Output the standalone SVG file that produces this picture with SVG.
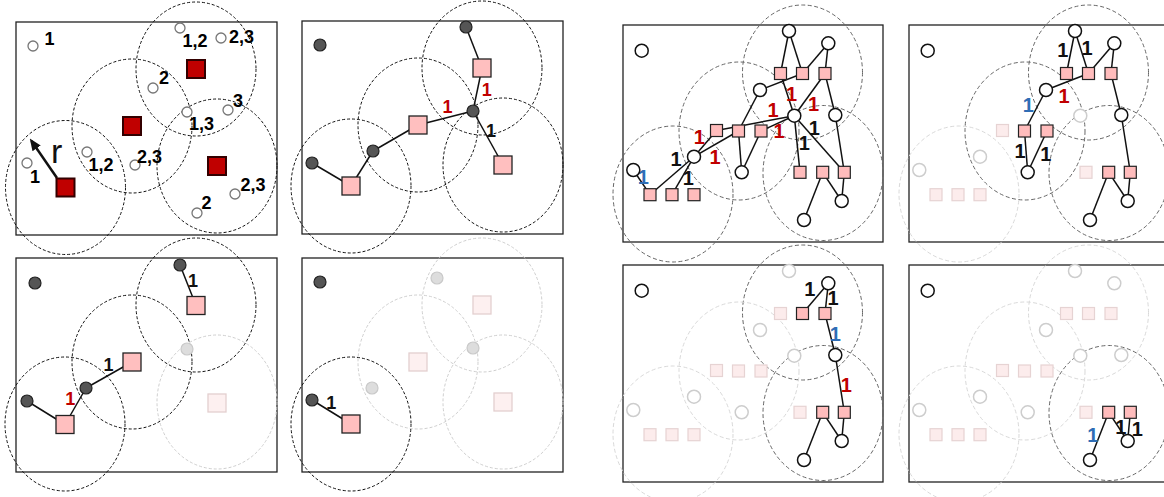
<svg xmlns="http://www.w3.org/2000/svg" width="1164" height="497" viewBox="0 0 1164 497">
<defs>
<style>
.frame{fill:none;stroke:#222;stroke-width:1.3}
.rg{fill:none;stroke:#111;stroke-width:1;stroke-dasharray:3 2}
.rgf{fill:none;stroke:#cfcfcf;stroke-width:1;stroke-dasharray:3 2}
.rr{fill:none;stroke:#666;stroke-width:1;stroke-dasharray:4 2.5}
.rrf{fill:none;stroke:#d9d9d9;stroke-width:1;stroke-dasharray:4 2.5}
.sc{fill:#fff;stroke:#777;stroke-width:1.3}
.dot{fill:#555;stroke:#222;stroke-width:1.2}
.dotf{fill:#ddd;stroke:#c9c9c9;stroke-width:1.2}
.sqr{fill:#c00000;stroke:#300;stroke-width:2}
.sqp{fill:#ffbfbf;stroke:#222;stroke-width:1.3}
.sqf{fill:#fdf0f0;stroke:#e3cfcf;stroke-width:1.3}
.ed line{stroke:#111;stroke-width:1.5;fill:none}
.rc{fill:#fff;stroke:#111;stroke-width:1.5}
.rcf{fill:#fff;stroke:#cdcdcd;stroke-width:1.5}
.rs{fill:#ffbcbc;stroke:#222;stroke-width:1.2}
.rsf{fill:#fcecec;stroke:#e6d3d3;stroke-width:1.2}
text{font-family:"Liberation Sans Narrow","Arial Narrow","Liberation Sans",Arial,sans-serif;font-weight:bold;font-size:18px}
.rt text{font-size:20px}
.k{fill:#111}.red{fill:#c00000}.blu{fill:#2f6db5}.mid{text-anchor:middle}
</style>
<marker id="ah" viewBox="0 0 12 10" refX="9" refY="5" markerWidth="12" markerHeight="10" markerUnits="userSpaceOnUse" orient="auto"><path d="M0,0 L12,5 L0,10 z" fill="#111"/></marker>
</defs>
<rect width="1164" height="497" fill="#fff"/>

<!-- Panel 1 -->
<g id="p1">
<rect class="frame" x="16" y="22" width="261" height="213"/>
<g id="p1-ranges">
<ellipse class="rg" cx="65.5" cy="187.5" rx="60" ry="67"/>
<ellipse class="rg" cx="132" cy="126" rx="60" ry="67"/>
<ellipse class="rg" cx="196" cy="69" rx="60" ry="67"/>
<ellipse class="rg" cx="217" cy="166" rx="60" ry="67"/>
</g>
<g id="p1-connectors"><line x1="57" y1="178" x2="31.5" y2="141" stroke="#111" stroke-width="2.5" marker-end="url(#ah)"/></g>
<g id="p1-s1"><rect class="sqr" x="56.5" y="178.5" width="18" height="18"/></g>
<g id="p1-s2"><rect class="sqr" x="123" y="117" width="18" height="18"/></g>
<g id="p1-s3"><rect class="sqr" x="187" y="60" width="18" height="18"/></g>
<g id="p1-s4"><rect class="sqr" x="208" y="157" width="18" height="18"/></g>
<g id="p1-n1"><circle class="sc" cx="33" cy="46" r="5"/><text x="44.5" y="45">1</text></g>
<g id="p1-n2"><circle class="sc" cx="180" cy="28" r="5"/><text x="182.5" y="46.7">1,2</text></g>
<g id="p1-n3"><circle class="sc" cx="221" cy="38" r="5"/><text x="229" y="42.7">2,3</text></g>
<g id="p1-n4"><circle class="sc" cx="153" cy="88" r="5"/><text x="159" y="84">2</text></g>
<g id="p1-n5"><circle class="sc" cx="187" cy="112" r="5"/><text x="189" y="130">1,3</text></g>
<g id="p1-n6"><circle class="sc" cx="228" cy="110" r="5"/><text x="233" y="106.7">3</text></g>
<g id="p1-n7"><circle class="sc" cx="87" cy="152" r="5"/><text x="88.5" y="171">1,2</text></g>
<g id="p1-n8"><circle class="sc" cx="135" cy="165" r="5"/><text x="137" y="162.7">2,3</text></g>
<g id="p1-n9"><circle class="sc" cx="27" cy="163" r="5"/><text x="30" y="182.7">1</text></g>
<g id="p1-n10"><circle class="sc" cx="235" cy="194" r="5"/><text x="240.5" y="191">2,3</text></g>
<g id="p1-n11"><circle class="sc" cx="197" cy="213" r="5"/><text x="201.5" y="209.3">2</text></g>
<text x="51" y="163" style="font-weight:normal;font-size:34px" fill="#111">r</text>
</g>

<!-- Panel 2 -->
<g id="p2">
<rect class="frame" x="302" y="21" width="261" height="213"/>
<g id="p2-ranges">
<ellipse class="rg" cx="351" cy="186" rx="60" ry="67"/>
<ellipse class="rg" cx="418" cy="125" rx="60" ry="67"/>
<ellipse class="rg" cx="482" cy="68" rx="60" ry="67"/>
<ellipse class="rg" cx="503" cy="165" rx="60" ry="67"/>
</g>
<g id="p2-connectors" class="ed">
<line x1="466" y1="27" x2="482" y2="68"/>
<line x1="482" y1="68" x2="473" y2="111"/>
<line x1="473" y1="111" x2="418" y2="125"/>
<line x1="473" y1="111" x2="503" y2="165"/>
<line x1="418" y1="125" x2="373" y2="151"/>
<line x1="373" y1="151" x2="351" y2="186"/>
<line x1="351" y1="186" x2="312" y2="163"/>
<text class="red mid" x="486.7" y="96">1</text>
<text class="red mid" x="447.5" y="113.3">1</text>
<text class="k mid" x="491" y="137.3">1</text>
</g>
<g id="p2-s1"><rect class="sqp" x="342" y="177" width="18" height="18"/></g>
<g id="p2-s2"><rect class="sqp" x="409" y="116" width="18" height="18"/></g>
<g id="p2-s3"><rect class="sqp" x="473" y="59" width="18" height="18"/></g>
<g id="p2-s4"><rect class="sqp" x="494" y="156" width="18" height="18"/></g>
<g id="p2-n1"><circle class="dot" cx="320" cy="45" r="6"/></g>
<g id="p2-n2"><circle class="dot" cx="466" cy="27" r="6"/></g>
<g id="p2-n3"><circle class="dot" cx="473" cy="111" r="6"/></g>
<g id="p2-n4"><circle class="dot" cx="373" cy="151" r="6"/></g>
<g id="p2-n5"><circle class="dot" cx="312" cy="163" r="6"/></g>
</g>

<!-- Panel 3 -->
<g id="p3">
<rect class="frame" x="16" y="258" width="261" height="214"/>
<g id="p3-ranges">
<ellipse class="rg" cx="65" cy="424" rx="60" ry="67"/>
<ellipse class="rg" cx="132" cy="362" rx="60" ry="67"/>
<ellipse class="rg" cx="196" cy="305" rx="60" ry="67"/>
<ellipse class="rgf" cx="217" cy="402" rx="60" ry="67"/>
</g>
<g id="p3-connectors" class="ed">
<line x1="180" y1="265" x2="196" y2="305.5"/>
<line x1="132" y1="362" x2="86" y2="388"/>
<line x1="86" y1="388" x2="65" y2="424.5"/>
<line x1="65" y1="424.5" x2="27" y2="401"/>
<text class="k mid" x="193" y="286.7">1</text>
<text class="k mid" x="108.5" y="371">1</text>
<text class="red mid" x="70.3" y="405">1</text>
</g>
<g id="p3-s1"><rect class="sqp" x="56" y="415.5" width="18" height="18"/></g>
<g id="p3-s2"><rect class="sqp" x="123" y="353" width="18" height="18"/></g>
<g id="p3-s3"><rect class="sqp" x="187" y="296.5" width="18" height="18"/></g>
<g id="p3-s4"><rect class="sqf" x="208" y="394" width="18" height="18"/></g>
<g id="p3-n1"><circle class="dot" cx="35" cy="283" r="6"/></g>
<g id="p3-n2"><circle class="dot" cx="180" cy="265" r="6"/></g>
<g id="p3-n3"><circle class="dotf" cx="187" cy="349" r="6"/></g>
<g id="p3-n4"><circle class="dot" cx="86" cy="388" r="6"/></g>
<g id="p3-n5"><circle class="dot" cx="27" cy="401" r="6"/></g>
</g>

<!-- Panel 4 -->
<g id="p4">
<rect class="frame" x="302" y="258" width="261" height="214"/>
<g id="p4-ranges">
<ellipse class="rg" cx="351" cy="424" rx="60" ry="67"/>
<ellipse class="rgf" cx="418" cy="362" rx="60" ry="67"/>
<ellipse class="rgf" cx="482" cy="305" rx="60" ry="67"/>
<ellipse class="rgf" cx="503" cy="402" rx="60" ry="67"/>
</g>
<g id="p4-connectors" class="ed">
<line x1="312" y1="400" x2="351" y2="424"/>
<text class="k mid" x="331.3" y="409">1</text>
</g>
<g id="p4-s1"><rect class="sqp" x="342" y="415" width="18" height="18"/></g>
<g id="p4-s2"><rect class="sqf" x="409" y="353" width="18" height="18"/></g>
<g id="p4-s3"><rect class="sqf" x="473" y="296" width="18" height="18"/></g>
<g id="p4-s4"><rect class="sqf" x="494" y="393" width="18" height="18"/></g>
<g id="p4-n1"><circle class="dot" cx="320" cy="282" r="6"/></g>
<g id="p4-n2"><circle class="dot" cx="312" cy="400" r="6"/></g>
<g id="p4-n3"><circle class="dotf" cx="437" cy="278" r="6"/></g>
<g id="p4-n4"><circle class="dotf" cx="473" cy="348" r="6"/></g>
<g id="p4-n5"><circle class="dotf" cx="372" cy="388" r="6"/></g>
</g>

<!-- Panel 5 -->
<g id="p5" class="rt" transform="translate(623,25)">
<rect class="frame" x="0" y="0" width="260" height="217"/>
<g id="p5-ranges">
<ellipse class="rr" cx="179.5" cy="47.5" rx="60" ry="67.5"/>
<ellipse class="rr" cx="116" cy="106" rx="60" ry="69"/>
<ellipse class="rr" cx="50" cy="169" rx="60" ry="68"/>
<ellipse class="rr" cx="200" cy="148" rx="60" ry="67.5"/>
</g>
<g id="p5-connectors" class="ed">
<line x1="166" y1="6" x2="157.5" y2="48.5"/>
<line x1="166" y1="6" x2="179.5" y2="48.5"/>
<line x1="205.3" y1="18.3" x2="179.5" y2="48.5"/>
<line x1="205.3" y1="18.3" x2="202" y2="48.5"/>
<line x1="202" y1="48.5" x2="212.3" y2="90"/>
<line x1="212.3" y1="90" x2="221.3" y2="147.3"/>
<line x1="157.5" y1="48.5" x2="171.3" y2="90.7"/>
<line x1="202" y1="48.5" x2="171.3" y2="90.7"/>
<line x1="137" y1="65" x2="179.5" y2="48.5"/>
<line x1="137" y1="65" x2="115.5" y2="106"/>
<line x1="171.3" y1="90.7" x2="93.5" y2="105.5"/>
<line x1="171.3" y1="90.7" x2="138" y2="106"/>
<line x1="171.3" y1="90.7" x2="177" y2="147.3"/>
<line x1="171.3" y1="90.7" x2="221.3" y2="147.3"/>
<line x1="115.5" y1="106" x2="118.7" y2="147.3"/>
<line x1="138" y1="106" x2="118.7" y2="147.3"/>
<line x1="93.5" y1="105.5" x2="71" y2="131.7"/>
<line x1="115.5" y1="106" x2="71" y2="131.7"/>
<line x1="71" y1="131.7" x2="27" y2="169.7"/>
<line x1="71" y1="131.7" x2="49" y2="169.7"/>
<line x1="10.3" y1="145" x2="27" y2="169.7"/>
<line x1="199.7" y1="147.3" x2="181" y2="195"/>
<line x1="199.7" y1="147.3" x2="218.7" y2="176"/>
<line x1="221.3" y1="147.3" x2="218.7" y2="176"/>
<text class="red mid" x="168.5" y="75.5">1</text>
<text class="red mid" x="190.5" y="85.5">1</text>
<text class="red mid" x="150" y="91.5">1</text>
<text class="red mid" x="156" y="113">1</text>
<text class="k mid" x="191.3" y="109.5">1</text>
<text class="k mid" x="181.3" y="124.5">1</text>
<text class="red mid" x="76.3" y="118.5">1</text>
<text class="red mid" x="92" y="138.5">1</text>
<text class="k mid" x="53" y="140.5">1</text>
<text class="k mid" x="65.3" y="159.5">1</text>
<text class="blu mid" x="20.3" y="158.5">1</text>
</g>
<g id="p5-T1"><rect class="rs" x="151.5" y="42.5" width="12" height="12"/></g>
<g id="p5-T2"><rect class="rs" x="173.5" y="42.5" width="12" height="12"/></g>
<g id="p5-T3"><rect class="rs" x="196" y="42.5" width="12" height="12"/></g>
<g id="p5-M1"><rect class="rs" x="87.5" y="99.5" width="12" height="12"/></g>
<g id="p5-M2"><rect class="rs" x="109.5" y="100" width="12" height="12"/></g>
<g id="p5-M3"><rect class="rs" x="132" y="100" width="12" height="12"/></g>
<g id="p5-L1"><rect class="rs" x="21" y="163.7" width="12" height="12"/></g>
<g id="p5-L2"><rect class="rs" x="43" y="163.7" width="12" height="12"/></g>
<g id="p5-L3"><rect class="rs" x="65" y="163.7" width="12" height="12"/></g>
<g id="p5-R1"><rect class="rs" x="171" y="141.3" width="12" height="12"/></g>
<g id="p5-R2"><rect class="rs" x="193.7" y="141.3" width="12" height="12"/></g>
<g id="p5-R3"><rect class="rs" x="215.3" y="141.3" width="12" height="12"/></g>
<g id="p5-iso"><circle class="rc" cx="18.7" cy="25.7" r="6.5"/></g>
<g id="p5-a"><circle class="rc" cx="166" cy="6" r="6.5"/></g>
<g id="p5-b"><circle class="rc" cx="205.3" cy="18.3" r="6.5"/></g>
<g id="p5-c"><circle class="rc" cx="137" cy="65" r="6.5"/></g>
<g id="p5-hub"><circle class="rc" cx="171.3" cy="90.7" r="6.5"/></g>
<g id="p5-d"><circle class="rc" cx="212.3" cy="90" r="6.5"/></g>
<g id="p5-e"><circle class="rc" cx="71" cy="131.7" r="6.5"/></g>
<g id="p5-f"><circle class="rc" cx="118.7" cy="147.3" r="6.5"/></g>
<g id="p5-g"><circle class="rc" cx="10.3" cy="145" r="6.5"/></g>
<g id="p5-h"><circle class="rc" cx="218.7" cy="176" r="6.5"/></g>
<g id="p5-i"><circle class="rc" cx="181" cy="195" r="6.5"/></g>
</g>

<!-- Panel 6 -->
<g id="p6" class="rt" transform="translate(909,25)">
<rect class="frame" x="0" y="0" width="260" height="217"/>
<g id="p6-ranges">
<ellipse class="rr" cx="179.5" cy="47.5" rx="60" ry="67.5"/>
<ellipse class="rr" cx="116" cy="106" rx="60" ry="69"/>
<ellipse class="rrf" cx="50" cy="169" rx="60" ry="68"/>
<ellipse class="rr" cx="200" cy="148" rx="60" ry="67.5"/>
</g>
<g id="p6-connectors" class="ed">
<line x1="166" y1="6" x2="157.5" y2="48.5"/>
<line x1="166" y1="6" x2="179.5" y2="48.5"/>
<line x1="205.3" y1="18.3" x2="179.5" y2="48.5"/>
<line x1="205.3" y1="18.3" x2="202" y2="48.5"/>
<line x1="202" y1="48.5" x2="212.3" y2="90"/>
<line x1="212.3" y1="90" x2="221.3" y2="147.3"/>
<line x1="137" y1="65" x2="179.5" y2="48.5"/>
<line x1="137" y1="65" x2="115.5" y2="106"/>
<line x1="115.5" y1="106" x2="118.7" y2="147.3"/>
<line x1="138" y1="106" x2="118.7" y2="147.3"/>
<line x1="199.7" y1="147.3" x2="181" y2="195"/>
<line x1="199.7" y1="147.3" x2="218.7" y2="176"/>
<line x1="221.3" y1="147.3" x2="218.7" y2="176"/>
<text class="k mid" x="153.7" y="31.5">1</text>
<text class="k mid" x="178" y="30">1</text>
<text class="red mid" x="155" y="78.2">1</text>
<text class="blu mid" x="119.3" y="87.2">1</text>
<text class="k mid" x="111" y="132.8">1</text>
<text class="k mid" x="136.7" y="136.2">1</text>
</g>
<g id="p6-T1"><rect class="rs" x="151.5" y="42.5" width="12" height="12"/></g>
<g id="p6-T2"><rect class="rs" x="173.5" y="42.5" width="12" height="12"/></g>
<g id="p6-T3"><rect class="rs" x="196" y="42.5" width="12" height="12"/></g>
<g id="p6-M1"><rect class="rsf" x="87.5" y="99.5" width="12" height="12"/></g>
<g id="p6-M2"><rect class="rs" x="109.5" y="100" width="12" height="12"/></g>
<g id="p6-M3"><rect class="rs" x="132" y="100" width="12" height="12"/></g>
<g id="p6-L1"><rect class="rsf" x="21" y="163.7" width="12" height="12"/></g>
<g id="p6-L2"><rect class="rsf" x="43" y="163.7" width="12" height="12"/></g>
<g id="p6-L3"><rect class="rsf" x="65" y="163.7" width="12" height="12"/></g>
<g id="p6-R1"><rect class="rsf" x="171" y="141.3" width="12" height="12"/></g>
<g id="p6-R2"><rect class="rs" x="193.7" y="141.3" width="12" height="12"/></g>
<g id="p6-R3"><rect class="rs" x="215.3" y="141.3" width="12" height="12"/></g>
<g id="p6-iso"><circle class="rc" cx="18.7" cy="25.7" r="6.5"/></g>
<g id="p6-a"><circle class="rc" cx="166" cy="6" r="6.5"/></g>
<g id="p6-b"><circle class="rc" cx="205.3" cy="18.3" r="6.5"/></g>
<g id="p6-c"><circle class="rc" cx="137" cy="65" r="6.5"/></g>
<g id="p6-hub"><circle class="rcf" cx="171.3" cy="90.7" r="6.5"/></g>
<g id="p6-d"><circle class="rc" cx="212.3" cy="90" r="6.5"/></g>
<g id="p6-e"><circle class="rcf" cx="71" cy="131.7" r="6.5"/></g>
<g id="p6-f"><circle class="rc" cx="118.7" cy="147.3" r="6.5"/></g>
<g id="p6-g"><circle class="rcf" cx="10.3" cy="145" r="6.5"/></g>
<g id="p6-h"><circle class="rc" cx="218.7" cy="176" r="6.5"/></g>
<g id="p6-i"><circle class="rc" cx="181" cy="195" r="6.5"/></g>
</g>

<!-- Panel 7 -->
<g id="p7" class="rt" transform="translate(623,265)">
<rect class="frame" x="0" y="0" width="260" height="217"/>
<g id="p7-ranges">
<ellipse class="rr" cx="179.5" cy="47.5" rx="60" ry="67.5"/>
<ellipse class="rrf" cx="116" cy="106" rx="60" ry="69"/>
<ellipse class="rrf" cx="50" cy="169" rx="60" ry="68"/>
<ellipse class="rr" cx="200" cy="148" rx="60" ry="67.5"/>
</g>
<g id="p7-connectors" class="ed">
<line x1="205.3" y1="18.3" x2="179.5" y2="48.5"/>
<line x1="205.3" y1="18.3" x2="202" y2="48.5"/>
<line x1="202" y1="48.5" x2="212.3" y2="90"/>
<line x1="212.3" y1="90" x2="221.3" y2="147.3"/>
<line x1="199.7" y1="147.3" x2="181" y2="195"/>
<line x1="199.7" y1="147.3" x2="218.7" y2="176"/>
<line x1="221.3" y1="147.3" x2="218.7" y2="176"/>
<text class="k mid" x="186.7" y="30.5">1</text>
<text class="k mid" x="210" y="39.8">1</text>
<text class="blu mid" x="212.3" y="75.5">1</text>
<text class="red mid" x="223.3" y="126.5">1</text>
</g>
<g id="p7-T1"><rect class="rsf" x="151.5" y="42.5" width="12" height="12"/></g>
<g id="p7-T2"><rect class="rs" x="173.5" y="42.5" width="12" height="12"/></g>
<g id="p7-T3"><rect class="rs" x="196" y="42.5" width="12" height="12"/></g>
<g id="p7-M1"><rect class="rsf" x="87.5" y="99.5" width="12" height="12"/></g>
<g id="p7-M2"><rect class="rsf" x="109.5" y="100" width="12" height="12"/></g>
<g id="p7-M3"><rect class="rsf" x="132" y="100" width="12" height="12"/></g>
<g id="p7-L1"><rect class="rsf" x="21" y="163.7" width="12" height="12"/></g>
<g id="p7-L2"><rect class="rsf" x="43" y="163.7" width="12" height="12"/></g>
<g id="p7-L3"><rect class="rsf" x="65" y="163.7" width="12" height="12"/></g>
<g id="p7-R1"><rect class="rsf" x="171" y="141.3" width="12" height="12"/></g>
<g id="p7-R2"><rect class="rs" x="193.7" y="141.3" width="12" height="12"/></g>
<g id="p7-R3"><rect class="rs" x="215.3" y="141.3" width="12" height="12"/></g>
<g id="p7-iso"><circle class="rc" cx="18.7" cy="25.7" r="6.5"/></g>
<g id="p7-a"><circle class="rcf" cx="166" cy="6" r="6.5"/></g>
<g id="p7-b"><circle class="rc" cx="205.3" cy="18.3" r="6.5"/></g>
<g id="p7-c"><circle class="rcf" cx="137" cy="65" r="6.5"/></g>
<g id="p7-hub"><circle class="rcf" cx="171.3" cy="90.7" r="6.5"/></g>
<g id="p7-d"><circle class="rc" cx="212.3" cy="90" r="6.5"/></g>
<g id="p7-e"><circle class="rcf" cx="71" cy="131.7" r="6.5"/></g>
<g id="p7-f"><circle class="rcf" cx="118.7" cy="147.3" r="6.5"/></g>
<g id="p7-g"><circle class="rcf" cx="10.3" cy="145" r="6.5"/></g>
<g id="p7-h"><circle class="rc" cx="218.7" cy="176" r="6.5"/></g>
<g id="p7-i"><circle class="rc" cx="181" cy="195" r="6.5"/></g>
</g>

<!-- Panel 8 -->
<g id="p8" class="rt" transform="translate(909,265)">
<rect class="frame" x="0" y="0" width="260" height="217"/>
<g id="p8-ranges">
<ellipse class="rrf" cx="179.5" cy="47.5" rx="60" ry="67.5"/>
<ellipse class="rrf" cx="116" cy="106" rx="60" ry="69"/>
<ellipse class="rrf" cx="50" cy="169" rx="60" ry="68"/>
<ellipse class="rr" cx="200" cy="148" rx="60" ry="67.5"/>
</g>
<g id="p8-connectors" class="ed">
<line x1="199.7" y1="147.3" x2="181" y2="195"/>
<line x1="199.7" y1="147.3" x2="218.7" y2="176"/>
<line x1="221.3" y1="147.3" x2="218.7" y2="176"/>
<text class="blu mid" x="183.7" y="177.2">1</text>
<text class="k mid" x="211.7" y="168.8">1</text>
<text class="k mid" x="228.3" y="170.5">1</text>
</g>
<g id="p8-T1"><rect class="rsf" x="151.5" y="42.5" width="12" height="12"/></g>
<g id="p8-T2"><rect class="rsf" x="173.5" y="42.5" width="12" height="12"/></g>
<g id="p8-T3"><rect class="rsf" x="196" y="42.5" width="12" height="12"/></g>
<g id="p8-M1"><rect class="rsf" x="87.5" y="99.5" width="12" height="12"/></g>
<g id="p8-M2"><rect class="rsf" x="109.5" y="100" width="12" height="12"/></g>
<g id="p8-M3"><rect class="rsf" x="132" y="100" width="12" height="12"/></g>
<g id="p8-L1"><rect class="rsf" x="21" y="163.7" width="12" height="12"/></g>
<g id="p8-L2"><rect class="rsf" x="43" y="163.7" width="12" height="12"/></g>
<g id="p8-L3"><rect class="rsf" x="65" y="163.7" width="12" height="12"/></g>
<g id="p8-R1"><rect class="rsf" x="171" y="141.3" width="12" height="12"/></g>
<g id="p8-R2"><rect class="rs" x="193.7" y="141.3" width="12" height="12"/></g>
<g id="p8-R3"><rect class="rs" x="215.3" y="141.3" width="12" height="12"/></g>
<g id="p8-iso"><circle class="rc" cx="18.7" cy="25.7" r="6.5"/></g>
<g id="p8-a"><circle class="rcf" cx="166" cy="6" r="6.5"/></g>
<g id="p8-b"><circle class="rcf" cx="205.3" cy="18.3" r="6.5"/></g>
<g id="p8-c"><circle class="rcf" cx="137" cy="65" r="6.5"/></g>
<g id="p8-hub"><circle class="rcf" cx="171.3" cy="90.7" r="6.5"/></g>
<g id="p8-d"><circle class="rcf" cx="212.3" cy="90" r="6.5"/></g>
<g id="p8-e"><circle class="rcf" cx="71" cy="131.7" r="6.5"/></g>
<g id="p8-f"><circle class="rcf" cx="118.7" cy="147.3" r="6.5"/></g>
<g id="p8-g"><circle class="rcf" cx="10.3" cy="145" r="6.5"/></g>
<g id="p8-h"><circle class="rc" cx="218.7" cy="176" r="6.5"/></g>
<g id="p8-i"><circle class="rc" cx="181" cy="195" r="6.5"/></g>
</g>
</svg>
